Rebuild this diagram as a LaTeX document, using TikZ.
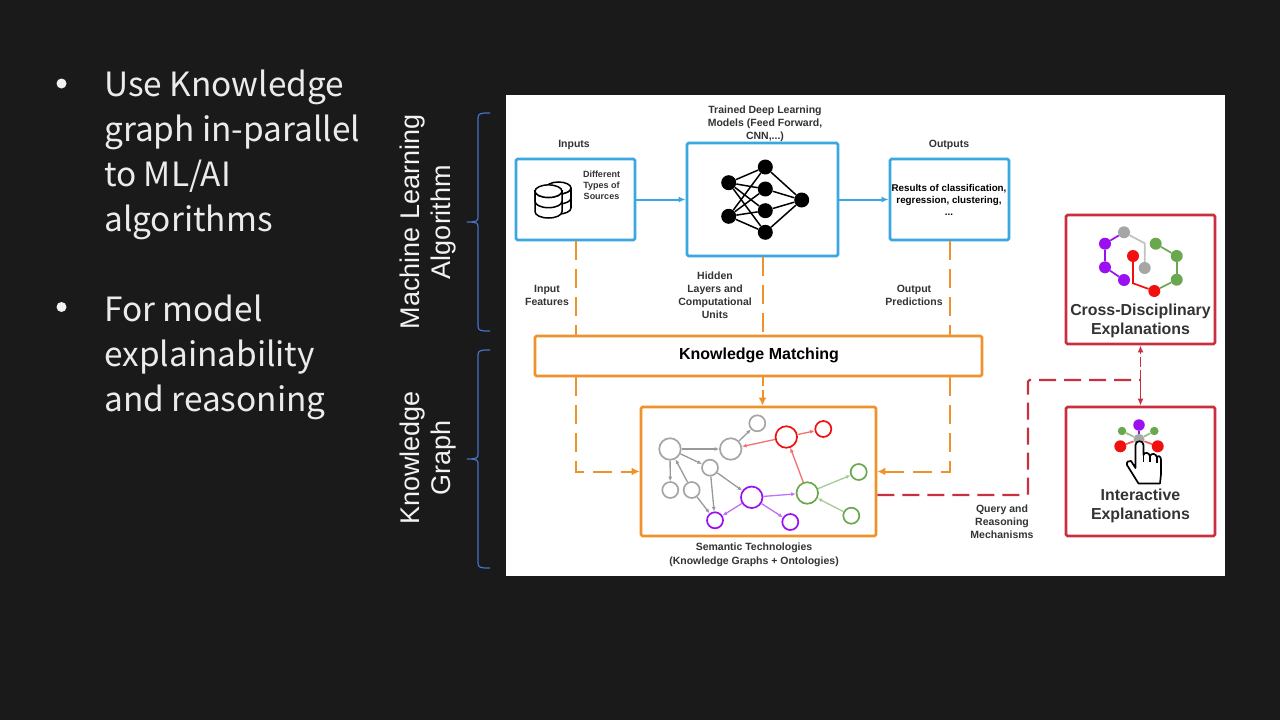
\documentclass[tikz,border=0pt]{standalone}
\usepackage{fontspec}
\setmainfont{Liberation Sans}
\newfontfamily\slidefont{Noto Sans CJK SC}
\usetikzlibrary{arrows.meta,calc}
\definecolor{bgdark}{HTML}{1A1A1A}
\definecolor{cblue}{HTML}{3AA7E0}
\definecolor{corange}{HTML}{F0922B}
\definecolor{cred}{HTML}{C9303F}
\definecolor{cbrace}{HTML}{4472C4}
\definecolor{ctext}{HTML}{333333}
\definecolor{gnode}{HTML}{A6A6A6}
\definecolor{pnode}{HTML}{9A10F0}
\definecolor{vgreen}{HTML}{6AA84F}
\definecolor{vred}{HTML}{F01010}
\tikzset{
  bluebox/.style={draw=cblue,line width=2.8pt,rounded corners=1.5pt,fill=white},
  orangebox/.style={draw=corange,line width=2.8pt,rounded corners=1.5pt,fill=white},
  redbox/.style={draw=cred,line width=2.8pt,rounded corners=1.5pt,fill=white},
  lab/.style={font=\bfseries\fontsize{10.5}{13}\selectfont,text=ctext,align=center,inner sep=0pt},
  bigl/.style={font=\bfseries\fontsize{15.9}{19}\selectfont,text=ctext,align=center,inner sep=0pt},
  slide/.style={font=\slidefont\fontsize{33.4}{45}\selectfont,text=white!92!black,align=left,anchor=north west,inner sep=0pt},
  vertl/.style={font=\fontsize{27}{31}\selectfont,text=white!95!black,align=center,rotate=90,inner sep=0pt},
  bul/.style={circle,fill=white!95!black,minimum size=10pt,inner sep=0pt},
  bluearr/.style={draw=cblue,line width=2pt,yshift=0.5pt,-{Latex[length=7pt,width=6pt]}},
  orline/.style={draw=corange,line width=2pt,xshift=-0.5pt,yshift=0.5pt,dash pattern=on 19pt off 9pt},
  orarr/.style={orline,-{Latex[length=8pt,width=8pt,fill=corange]}},
  redline/.style={draw=cred,line width=2.1pt,dash pattern=on 17pt off 8pt},
  nn/.style={circle,fill=black,minimum size=15pt,inner sep=0pt},
  nnedge/.style={draw=black,line width=1.5pt},
  gc/.style={circle,draw=#1,line width=1.7pt,fill=white,inner sep=0pt},
  big/.style={minimum size=21.5pt},
  small/.style={minimum size=16pt},
  ge/.style={draw=#1,line width=1.3pt,-{Latex[length=4.5pt,width=4pt]}},
  dot/.style={circle,fill=#1,minimum size=12pt,inner sep=0pt},
  ie/.style={draw=#1,line width=1.7pt},
  cyl/.style={draw=black,line width=1.5pt,fill=white},
}
\begin{document}
\begin{tikzpicture}[x=1pt,y=-1pt]
\useasboundingbox (0,0) rectangle (1280,720);
\fill[bgdark] (0,0) rectangle (1280,720);
\fill[white] (506,95) rectangle (1225,576);

% slide text
\node[bul] (b1) at (61.5,83.5) {};
\node[slide] (t1) at (104,70) {Use Knowledge\\graph in-parallel\\to ML/AI\\algorithms};
\node[bul] (b2) at (61.5,307) {};
\node[slide] (t2) at (104,295) {For model\\explainability\\and reasoning};

% side labels
\node[vertl] (ml) at (428,222) {Machine Learning\\Algorithm};
\node[vertl] (kg) at (428,458) {Knowledge\\Graph};
\draw[cbrace,line width=1.2pt] (490,113) .. controls (481,113) and (478,113) .. (478,118) -- (478,217) .. controls (478,221) and (477,222) .. (467,222) .. controls (477,222) and (478,223) .. (478,227) -- (478,326) .. controls (478,331) and (481,331) .. (490,331);
\draw[cbrace,line width=1.2pt] (490,350) .. controls (481,350) and (478,350) .. (478,355) -- (478,454) .. controls (478,458) and (477,459) .. (467,459) .. controls (477,459) and (478,460) .. (478,464) -- (478,563) .. controls (478,568) and (481,568) .. (490,568);

% boxes
\node[bluebox,minimum width=119pt,minimum height=81pt] (inb) at (575.5,199.5) {};
\node[bluebox,minimum width=151pt,minimum height=113pt] (mod) at (762.5,199.5) {};
\node[bluebox,minimum width=119pt,minimum height=81pt] (outb) at (949.5,199.5) {};
\node[orangebox,minimum width=447pt,minimum height=40pt] (km) at (758.5,356) {};
\node[orangebox,minimum width=235pt,minimum height=129pt] (sem) at (758.5,471.5) {};
\node[redbox,minimum width=149pt,minimum height=129pt] (cross) at (1140.5,279.5) {};
\node[redbox,minimum width=149pt,minimum height=129pt] (inter) at (1140.5,471.5) {};

% solid connectors
\draw[bluearr] (inb.east) -- (mod.west);
\draw[bluearr] (mod.east) -- (outb.west);

% orange dashed
\coordinate (o1) at (575.5,471.5);
\coordinate (o2) at (949.5,471.5);
\draw[orline] (inb.south) -- (inb.south |- km.north);
\draw[orline] (mod.south) -- (mod.south |- km.north);
\draw[orline] (outb.south) -- (outb.south |- km.north);
\draw[orarr] (inb.south |- km.south) -- (o1) -- (sem.west);
\draw[orarr] (outb.south |- km.south) -- (o2) -- (sem.east);
\draw[draw=corange,line width=2pt,xshift=-0.5pt,dash pattern=on 9pt off 4pt,-{Latex[length=8pt,width=8pt]}] (mod.south |- km.south) -- (mod.south |- sem.north);

% red dashed
\coordinate (r0) at ($(sem.east)+(0,23.5)$);
\coordinate (r1) at (1028,495);
\coordinate (r2) at (1028,380);
\coordinate (r3) at (1140.5,380);
\draw[redline,rounded corners=1.5pt] (r0) -- (r1) -- (r2) -- (r3);
\draw[draw=cred,line width=1.8pt,dash pattern=on 10pt off 3pt,-{Latex[length=7pt,width=6pt]}] (r3) -- (cross.south);
\draw[draw=cred,line width=1.8pt,-{Latex[length=7pt,width=6pt]}] (r3) -- (inter.north);

% database icon
\foreach \dy in {20,10,0} {
  \draw[cyl] (546,\dy+188) -- (546,\dy+188) arc[start angle=180,end angle=360,x radius=12.5pt,y radius=6pt] -- (571,\dy+188);
}
\draw[cyl] (546,188) -- (546,208) (571,188) -- (571,208);
\draw[cyl] (558.5,188) ellipse[x radius=12.5pt,y radius=6pt];
\foreach \dy in {20.5,10.2,0} {
  \draw[cyl] (535,\dy+191.2) -- (535,\dy+191.2) arc[start angle=180,end angle=360,x radius=13.5pt,y radius=6.3pt] -- (562,\dy+191.2) -- (562,191.2) -- (535,191.2) -- cycle;
}
\draw[cyl] (548.5,191.2) ellipse[x radius=13.5pt,y radius=6.3pt];

% neural net
\node[nn] (n1) at (728.7,182.7) {};
\node[nn] (n2) at (728.7,216.3) {};
\node[nn] (m1) at (765.3,167) {};
\node[nn] (m2) at (765.3,189) {};
\node[nn] (m3) at (765.3,210.7) {};
\node[nn] (m4) at (765.3,232.3) {};
\node[nn] (o) at (801.7,200) {};
\foreach \a in {n1,n2} \foreach \b in {m1,m2,m3,m4} \draw[nnedge] (\a) -- (\b);
\foreach \b in {m1,m2,m3,m4} \draw[nnedge] (\b) -- (o);

% knowledge graph
\node[gc=gnode,big] (A) at (670,449) {};
\node[gc=gnode,big] (B) at (730.7,449) {};
\node[gc=gnode,small] (C) at (757.3,423.3) {};
\node[gc=gnode,small] (D) at (710,467.7) {};
\node[gc=gnode,small] (E) at (670.3,490) {};
\node[gc=gnode,small] (F) at (691.7,490) {};
\node[gc=pnode,big] (G) at (751.7,497.3) {};
\node[gc=pnode,small] (H) at (715,520.3) {};
\node[gc=pnode,small] (I) at (790.3,522) {};
\node[gc=vgreen,big] (J) at (807.3,493) {};
\node[gc=vgreen,small] (K) at (858.7,472) {};
\node[gc=vgreen,small] (L) at (851.3,515.7) {};
\node[gc=vred,big] (M) at (786.3,437) {};
\node[gc=vred,small] (N) at (823.3,429) {};
\foreach \a/\b in {A/B,B/C,A/D,A/E,F/A,F/H,D/H,D/G} \draw[ge=black!40] (\a) -- (\b);
\foreach \a/\b in {G/H,G/I,G/J} \draw[ge=pnode!60] (\a) -- (\b);
\foreach \a/\b in {J/M,M/B,M/N} \draw[ge=vred!60] (\a) -- (\b);
\foreach \a/\b in {J/K,L/J} \draw[ge=vgreen!60] (\a) -- (\b);

% cross-disciplinary icon
\node[dot=pnode] (c1) at (1105,243.7) {};
\node[dot=pnode] (c2) at (1105,267.3) {};
\node[dot=pnode] (c3) at (1124,280) {};
\node[dot=gnode] (c4) at (1124,232.3) {};
\node[dot=gnode] (c5) at (1144.7,268) {};
\node[dot=vgreen] (c6) at (1155.7,243.7) {};
\node[dot=vgreen] (c7) at (1176.7,256) {};
\node[dot=vgreen] (c8) at (1176.7,279.7) {};
\node[dot=vred] (c9) at (1154.3,291) {};
\node[dot=vred] (c10) at (1133,256) {};
\coordinate (cg) at (1144.7,243.3);
\coordinate (cr) at (1133,283.3);
\draw[ie=pnode] (c4) -- (c1);
\draw[ie=pnode] (c1) -- (c2);
\draw[ie=pnode] (c2) -- (c3);
\draw[ie=gnode!70] (c4) -- (cg) -- (c5);
\draw[ie=vgreen] (c6) -- (c7);
\draw[ie=vgreen] (c7) -- (c8);
\draw[ie=vgreen] (c8) -- (c9);
\draw[ie=vred] (c10) -- (cr) -- (c9);

% interactive icon
\node[circle,fill=gnode,minimum size=11pt,inner sep=0pt] (i0) at (1139,439.3) {};
\node[circle,fill=pnode,minimum size=11.5pt,inner sep=0pt] (i1) at (1139,425) {};
\node[circle,fill=vgreen,minimum size=8.5pt,inner sep=0pt] (i2) at (1122,431) {};
\node[circle,fill=vgreen,minimum size=8.5pt,inner sep=0pt] (i3) at (1154.3,431) {};
\node[circle,fill=vred,minimum size=12pt,inner sep=0pt] (i4) at (1120.3,446.3) {};
\node[circle,fill=vred,minimum size=12pt,inner sep=0pt] (i5) at (1157.7,446.3) {};
\draw[ie=pnode] (i0) -- (i1);
\draw[ie=vgreen!70] (i0) -- (i2);
\draw[ie=vgreen!70] (i0) -- (i3);
\draw[ie=vred!70] (i0) -- (i4);
\draw[ie=vred!70] (i0) -- (i5);
\draw[fill=white,draw=black,line width=1.7pt,line join=round]
  (1135.5,468) -- (1135.5,445) .. controls (1135.5,440) and (1143.5,440) .. (1143.5,445)
  -- (1143.5,455) .. controls (1144,452) and (1149,452) .. (1150,456)
  .. controls (1151,453) and (1156,453) .. (1157,457.5)
  .. controls (1158,455) and (1161,456) .. (1161,460)
  -- (1161,474) -- (1160,483.5) -- (1138.5,483.5) -- (1127,465) .. controls (1126,462) and (1129,460) .. (1131,461) -- cycle;
\draw[black,line width=1.4pt] (1143.5,455) -- (1143.5,462) (1150,456) -- (1150,462) (1157,457.5) -- (1157,463);

% labels
\node[lab] (l1) at (574,144.5) {Inputs};
\node[lab] (l2) at (765,123.5) {Trained Deep Learning\\Models (Feed Forward,\\CNN,...)};
\node[lab] (l3) at (949,144.5) {Outputs};
\node[lab,font=\bfseries\fontsize{9}{11}\selectfont] (l4) at (601.5,185) {Different\\Types of\\Sources};
\node[lab,text=black,font=\bfseries\fontsize{9.8}{12}\selectfont] (l5) at (949,199.5) {Results of classification,\\regression, clustering,\\...};
\node[lab] (l6) at (547,295) {Input\\Features};
\node[lab] (l7) at (715,295) {Hidden\\Layers and\\Computational\\Units};
\node[lab] (l8) at (914,295) {Output\\Predictions};
\node[lab,text=black,font=\bfseries\fontsize{16}{18}\selectfont] (l9) at (759,355.5) {Knowledge Matching};
\node[lab,font=\bfseries\fontsize{10.5}{14}\selectfont] (l10) at (754,555) {Semantic Technologies\\(Knowledge Graphs + Ontologies)};
\node[bigl] (l11) at (1140.5,321) {Cross-Disciplinary\\Explanations};
\node[bigl] (l12) at (1140.5,506) {Interactive\\Explanations};
\node[lab] (l13) at (1002,521.5) {Query and\\Reasoning\\Mechanisms};
\end{tikzpicture}
\end{document}
